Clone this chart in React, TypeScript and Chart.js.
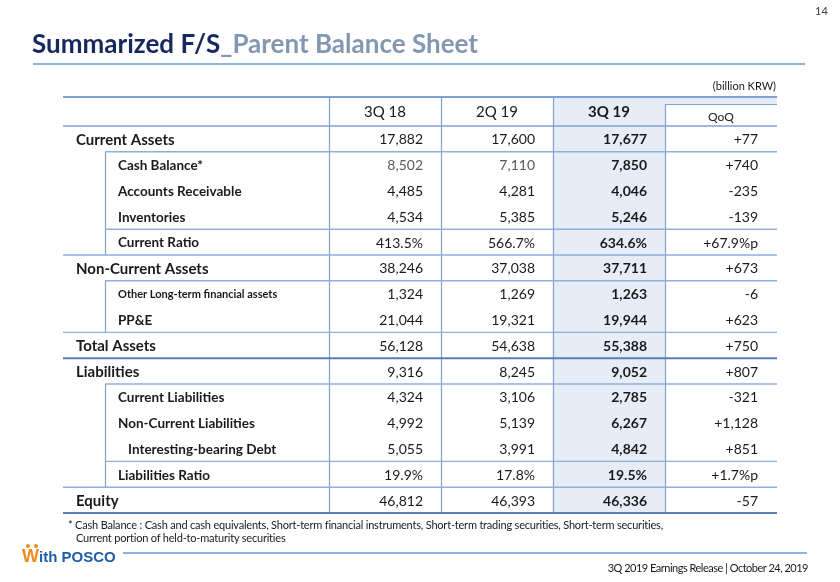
import React, { useEffect, useRef } from "react";
import { Chart, registerables } from "chart.js";

Chart.register(...registerables);

// ---------- data ----------
const periods = ["3Q 18", "2Q 19", "3Q 19"];
const changeLabel = "QoQ";
const rowLabels = [
  "Current Assets",
  "Cash Balance*",
  "Accounts Receivable",
  "Inventories",
  "Current Ratio",
  "Non-Current Assets",
  "Other Long-term financial assets",
  "PP&E",
  "Total Assets",
  "Liabilities",
  "Current Liabilities",
  "Non-Current Liabilities",
  "Interesting-bearing Debt",
  "Liabilities Ratio",
  "Equity",
];
const rowLevels = [0, 1, 1, 1, 1, 0, 1, 1, 0, 0, 1, 1, 2, 1, 0];
const ratioRows = ["Current Ratio", "Liabilities Ratio"];
const values3Q18 = [17882, 8502, 4485, 4534, 413.5, 38246, 1324, 21044, 56128, 9316, 4324, 4992, 5055, 19.9, 46812];
const values2Q19 = [17600, 7110, 4281, 5385, 566.7, 37038, 1269, 19321, 54638, 8245, 3106, 5139, 3991, 17.8, 46393];
const values3Q19 = [17677, 7850, 4046, 5246, 634.6, 37711, 1263, 19944, 55388, 9052, 2785, 6267, 4842, 19.5, 46336];
const valuesQoQ = [77, 740, -235, -139, 67.9, 673, -6, 623, 750, 807, -321, 1128, 851, 1.7, -57];
const unitLabel = "(billion KRW)";
const titleMain = "Summarized F/S";
const titleSub = "_Parent Balance Sheet";
const footnoteLines = [
  "Cash Balance : Cash and cash equivalents, Short-term financial instruments, Short-term trading securities, Short-term securities,",
  "Current portion of held-to-maturity securities",
];
const footerText = "3Q 2019 Earnings Release | October 24, 2019";
const pageNumber = "14";

// ---------- style ----------
const FONT = "Lato, 'Open Sans', sans-serif";
const LABEL_UNITS = 2.375;
const SUB_X = -2.0;
const HEADER_H = 29;
const LINE = "#8DB0DD";
const VLINE = "#7FA3D3";
const DARK_LINE = "#5B7DB3";
const SHADE = "#E6EDF7";
const TEXT = "#1A1A1A";
const MUTED = "#5A5A5A";
const SMALL_ROWS = new Set(["Other Long-term financial assets"]);
const MUTED_ROWS = new Set(["Cash Balance*"]);
const THICK_AFTER = "Total Assets";

const fmtNum = (v: number, ratio: boolean) =>
  ratio ? v.toFixed(1) + "%" : v.toLocaleString("en-US");
const fmtChg = (v: number, ratio: boolean) => {
  const s = v > 0 ? "+" : "";
  return ratio ? s + v.toFixed(1) + "%p" : s + v.toLocaleString("en-US");
};

const tablePlugin = {
  id: "tablePlugin",
  beforeDatasetsDraw(chart: any) {
    const { ctx, chartArea, scales } = chart;
    const x = scales.x;
    const top = chartArea.top - HEADER_H;
    ctx.save();
    ctx.fillStyle = SHADE;
    ctx.fillRect(x.getPixelForValue(2), top, x.getPixelForValue(3) - x.getPixelForValue(2), HEADER_H);
    ctx.fillRect(x.getPixelForValue(3), top, x.getPixelForValue(4) - x.getPixelForValue(3), 7);
    ctx.restore();
  },
  afterDatasetsDraw(chart: any) {
    const { ctx, chartArea, scales } = chart;
    const x = scales.x;
    const y = scales.y;
    const top = chartArea.top - HEADER_H;
    const left = chartArea.left;
    const right = chartArea.right;
    const subX = x.getPixelForValue(SUB_X);
    const n = rowLabels.length;
    const boundary = (i: number) =>
      i < n - 1 ? (y.getPixelForValue(i) + y.getPixelForValue(i + 1)) / 2 : chartArea.bottom;
    const hline = (yy: number, x0: number, x1: number, color: string, w: number) => {
      ctx.beginPath();
      ctx.strokeStyle = color;
      ctx.lineWidth = w;
      ctx.moveTo(x0, yy);
      ctx.lineTo(x1, yy);
      ctx.stroke();
    };
    const vline = (xx: number, y0: number, y1: number, color: string, w: number) => {
      ctx.beginPath();
      ctx.strokeStyle = color;
      ctx.lineWidth = w;
      ctx.moveTo(xx, y0);
      ctx.lineTo(xx, y1);
      ctx.stroke();
    };
    ctx.save();
    const qx0 = x.getPixelForValue(3);
    const boxTop = top + 7;
    ctx.fillStyle = "#FFFFFF";
    ctx.fillRect(qx0, boxTop, right - qx0, chartArea.top - boxTop);

    for (let c = 0; c < 4; c++) {
      const xx = Math.round(x.getPixelForValue(c)) + 0.5;
      vline(xx, c === 3 ? boxTop : top, chartArea.bottom, VLINE, 1.2);
    }
    hline(Math.round(boxTop) + 0.5, qx0, right, VLINE, 1.2);
    hline(top, left, right, "#7FA2D2", 1.8);
    hline(chartArea.top, left, right, "#7FA2D2", 1.6);

    for (let i = 0; i < n; i++) {
      const yy = boundary(i);
      const next = i + 1 < n ? rowLevels[i + 1] : 0;
      if (i === n - 1) {
        hline(yy, left, right, DARK_LINE, 2);
      } else if (rowLabels[i] === THICK_AFTER) {
        hline(yy, left, right, DARK_LINE, 2);
      } else if (next === 0) {
        hline(yy, left, right, LINE, 1.4);
      } else if (rowLevels[i] === 0 || ratioRows.includes(rowLabels[i + 1])) {
        hline(yy, subX, right, LINE, 1.4);
      }
    }
    let start = -1;
    for (let i = 0; i <= n; i++) {
      const sub = i < n && rowLevels[i] > 0;
      if (sub && start < 0) start = i;
      if (!sub && start >= 0) {
        vline(Math.round(subX) + 0.5, boundary(start - 1), boundary(i - 1), VLINE, 1.2);
        start = -1;
      }
    }

    ctx.textBaseline = "middle";
    ctx.textAlign = "center";
    ctx.fillStyle = TEXT;
    periods.forEach((p, c) => {
      ctx.font = (c === 2 ? "bold " : "") + "15px " + FONT;
      const cx = (x.getPixelForValue(c) + x.getPixelForValue(c + 1)) / 2;
      ctx.fillText(p, cx, top + 15);
    });
    ctx.font = "12px " + FONT;
    ctx.fillText(changeLabel, (qx0 + right) / 2, top + 20);

    const cols = [values3Q18, values2Q19, values3Q19];
    rowLabels.forEach((label, i) => {
      const cy = y.getPixelForValue(i) + 1;
      const lvl = rowLevels[i];
      const ratio = ratioRows.includes(label);
      ctx.textAlign = "left";
      ctx.fillStyle = TEXT;
      let size = lvl === 0 ? 15 : 13.5;
      if (SMALL_ROWS.has(label)) size = 11;
      ctx.font = "bold " + size + "px " + FONT;
      const lx = lvl === 0 ? left + 13 : subX + 13 + (lvl - 1) * 10;
      ctx.fillText(label, lx, cy);

      ctx.textAlign = "right";
      cols.forEach((arr, c) => {
        ctx.font = (c === 2 ? "bold " : "") + "14px " + FONT;
        ctx.fillStyle = MUTED_ROWS.has(label) && c < 2 ? MUTED : TEXT;
        ctx.fillText(fmtNum(arr[i], ratio), x.getPixelForValue(c + 1) - 18, cy);
      });
      ctx.font = "14px " + FONT;
      ctx.fillStyle = TEXT;
      ctx.fillText(fmtChg(valuesQoQ[i], ratio), x.getPixelForValue(4) - 19, cy);
    });
    ctx.restore();
  },
};

export default function App() {
  const canvasRef = useRef<HTMLCanvasElement | null>(null);

  useEffect(() => {
    if (!canvasRef.current) return;
    const chart = new Chart(canvasRef.current, {
      type: "bar",
      data: {
        labels: rowLabels,
        datasets: [
          {
            label: periods[2],
            data: values3Q19.map(() => [2, 3]) as any,
            backgroundColor: SHADE,
            borderWidth: 0,
            barPercentage: 1,
            categoryPercentage: 1,
          },
        ],
      },
      options: {
        indexAxis: "y",
        animation: false,
        responsive: false,
        devicePixelRatio: 1,
        layout: { padding: { left: 63, right: 63, top: 126, bottom: 69 } },
        plugins: { legend: { display: false }, tooltip: { enabled: false } },
        scales: {
          x: { type: "linear", min: -LABEL_UNITS, max: 4, display: false },
          y: { type: "category", display: false, offset: true },
        },
      },
      plugins: [tablePlugin],
    });
    return () => chart.destroy();
  }, []);

  const abs = (s: React.CSSProperties): React.CSSProperties => ({
    position: "absolute",
    whiteSpace: "nowrap",
    lineHeight: 1,
    fontFamily: FONT,
    ...s,
  });

  const dot = (left: number): React.CSSProperties => ({
    position: "absolute",
    left,
    top: 544,
    width: 4,
    height: 4,
    borderRadius: 2,
    background: "#F08A1C",
  });

  return (
    <div style={{ position: "absolute", left: 0, top: 0, width: 840, height: 582, background: "#fff", overflow: "hidden" }}>
      <canvas ref={canvasRef} width={840} height={582} style={{ position: "absolute", left: 0, top: 0 }} />
      <div style={abs({ left: 815, top: 5, fontSize: 11, color: "#404040" })}>{pageNumber}</div>
      <div style={abs({ left: 32, top: 30, fontSize: 26, fontWeight: 700 })}>
        <span style={{ color: "#17285F" }}>{titleMain}</span>
        <span style={{ color: "#8497B0" }}>{titleSub}</span>
      </div>
      <div style={{ position: "absolute", left: 33, top: 63, width: 772, height: 2, background: "#8DB3E2" }} />
      <div style={abs({ right: 840 - 776, top: 80, fontSize: 11, color: "#1A1A1A" })}>{unitLabel}</div>
      <div style={abs({ left: 68, top: 519, fontSize: 11, letterSpacing: -0.2, color: "#1A1A1A" })}>
        * {footnoteLines[0]}
      </div>
      <div style={abs({ left: 76, top: 532, fontSize: 11, letterSpacing: -0.2, color: "#1A1A1A" })}>{footnoteLines[1]}</div>
      <div style={dot(26)} />
      <div style={dot(34)} />
      <div style={abs({ left: 22, top: 547, fontSize: 15, fontWeight: 700, fontFamily: "'Liberation Sans', Arial, sans-serif" })}>
        <span style={{ color: "#F08A1C", fontSize: 18 }}>W</span>
        <span style={{ color: "#1E5DA8" }}>ith POSCO</span>
      </div>
      <div style={{ position: "absolute", left: 123, top: 552, width: 684, height: 1.5, background: "#8DB3E2" }} />
      <div style={abs({ right: 840 - 808, top: 562, fontSize: 11, letterSpacing: -0.5, color: "#1A1A1A" })}>{footerText}</div>
    </div>
  );
}
